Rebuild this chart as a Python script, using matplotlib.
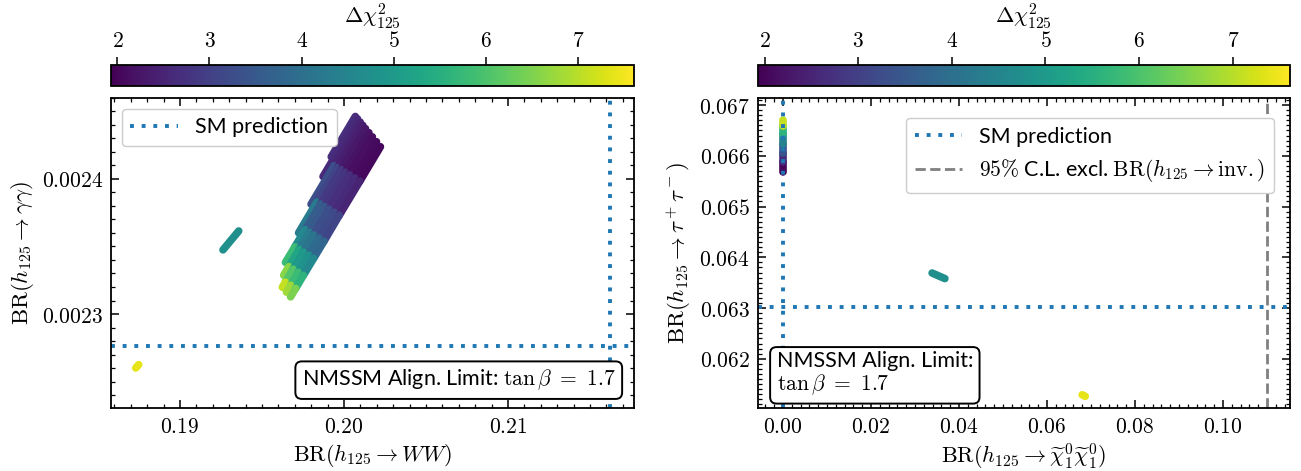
import numpy as np
import matplotlib
matplotlib.use("Agg")
import matplotlib.pyplot as plt
from matplotlib.collections import LineCollection
from matplotlib.ticker import AutoMinorLocator, FuncFormatter, MultipleLocator
from matplotlib.colors import Normalize
from matplotlib.cm import ScalarMappable

plt.rcParams['mathtext.fontset'] = 'cm'
plt.rcParams['font.family'] = 'DejaVu Serif'
plt.rcParams['font.size'] = 15
plt.rcParams['axes.linewidth'] = 1.3

# ---------------- data
# colour range of Delta chi^2_125
chi_min, chi_max = 1.93, 7.61

# main band in BR(WW) vs BR(gamma gamma): strips of points (vertices),
# one chi^2 value per piece between two vertices
band_ww = [
    [0.20069, 0.19922],
    [0.20082, 0.19872],
    [0.20099, 0.19940, 0.19799],
    [0.20115, 0.19961, 0.19835, 0.19723],
    [0.20131, 0.19982, 0.19856, 0.19763, 0.19700, 0.19643],
    [0.20152, 0.20008, 0.19882, 0.19789, 0.19726, 0.19663, 0.19632],
    [0.20173, 0.20034, 0.19908, 0.19815, 0.19752, 0.19689, 0.19642, 0.19624],
    [0.20198, 0.20066, 0.19940, 0.19847, 0.19784, 0.19721, 0.19674, 0.19649],
    [0.20222, 0.20097, 0.19971, 0.19878, 0.19815, 0.19752, 0.19705, 0.19674],
]
band_aa = [
    [0.0024463, 0.0024164],
    [0.0024446, 0.0024018],
    [0.0024421, 0.0024099, 0.0023813],
    [0.0024397, 0.0024084, 0.0023830, 0.0023601],
    [0.0024373, 0.0024069, 0.0023815, 0.0023624, 0.0023497, 0.0023382],
    [0.0024343, 0.0024050, 0.0023796, 0.0023605, 0.0023478, 0.0023351, 0.0023287],
    [0.0024312, 0.0024031, 0.0023777, 0.0023586, 0.0023459, 0.0023332, 0.0023236, 0.0023198],
    [0.0024276, 0.0024008, 0.0023754, 0.0023563, 0.0023436, 0.0023309, 0.0023213, 0.0023162],
    [0.0024239, 0.0023985, 0.0023731, 0.0023540, 0.0023413, 0.0023286, 0.0023190, 0.0023127],
]
band_chi = [
    [2.7],
    [2.6],
    [2.5, 3.3],
    [2.4, 3.1, 4.3],
    [2.3, 2.9, 3.6, 4.6, 5.8],
    [2.2, 2.8, 3.5, 4.3, 5.3, 6.6],
    [2.15, 2.7, 3.3, 4.1, 5.0, 6.1, 7.1],
    [2.1, 2.6, 3.2, 3.9, 4.8, 5.8, 6.8],
    [2.05, 2.5, 3.1, 3.8, 4.6, 5.6, 6.5],
]
# the two small groups
teal_ww = [0.19262, 0.19358]
teal_aa = [0.0023475, 0.0023615]
teal_chi = [4.75]
yel_ww = [0.18730, 0.18748]
yel_aa = [0.0022600, 0.0022625]
yel_chi = [7.4]

# right panel: BR(h -> chi chi) vs BR(h -> tau tau)
col_inv = [0.0001, 0.0001, 0.0001, 0.0001, 0.0001, 0.0001, 0.0001]
col_tt = [0.06569, 0.06588, 0.06606, 0.06624, 0.06642, 0.06658, 0.06671]
col_chi = [2.0, 2.6, 3.4, 4.4, 5.6, 7.1]
teal_inv = [0.0339, 0.0368]
teal_tt = [0.06369, 0.06358]
yel_inv = [0.0680, 0.0687]
yel_tt = [0.06129, 0.06126]

# reference lines
sm_ww, sm_aa = 0.21622, 0.0022763
sm_inv, sm_tt = 0.0, 0.06303
inv_limit = 0.11

cmap = plt.get_cmap('viridis')
norm = Normalize(vmin=chi_min, vmax=chi_max)
sans = {'family': 'Lato', 'size': 15.5}


def draw_strip(ax, xs, ys, cs, lw=5.5):
    pts = np.column_stack([xs, ys])
    segs = np.stack([pts[:-1], pts[1:]], axis=1)
    lc = LineCollection(segs, cmap=cmap, norm=norm, linewidths=lw,
                        capstyle='round', joinstyle='round')
    lc.set_array(np.asarray(cs))
    ax.add_collection(lc)


def style_axes(ax):
    ax.tick_params(which='both', direction='in', top=True, right=True)
    ax.tick_params(which='major', length=6, width=1.1, labelsize=15.5, pad=6)
    ax.tick_params(which='minor', length=3, width=0.9)
    ax.xaxis.set_minor_locator(AutoMinorLocator(10))
    ax.yaxis.set_minor_locator(AutoMinorLocator(10))


def add_cbar(fig, rect):
    cax = fig.add_axes(rect)
    cb = fig.colorbar(ScalarMappable(norm=norm, cmap=cmap), cax=cax,
                      orientation='horizontal')
    cb.ax.xaxis.set_ticks_position('top')
    cb.ax.xaxis.set_label_position('top')
    cb.set_ticks([2, 3, 4, 5, 6, 7])
    cb.ax.xaxis.set_major_formatter(FuncFormatter(lambda v, _: f'${v:.0f}$'))
    cb.ax.tick_params(direction='out', length=6, width=1.1, labelsize=15.5)
    cb.outline.set_linewidth(1.3)
    cb.set_label(r'$\Delta\chi^2_{125}$', fontsize=16, labelpad=5)
    return cb


fig = plt.figure(figsize=(13.01, 4.71), dpi=100)

# ---------------- left panel
ax1 = fig.add_axes([0.0853, 0.1338, 0.4020, 0.6582])
for xs, ys, cs in zip(band_ww, band_aa, band_chi):
    draw_strip(ax1, xs, ys, cs)
draw_strip(ax1, teal_ww, teal_aa, teal_chi)
draw_strip(ax1, yel_ww, yel_aa, yel_chi)
ax1.axvline(sm_ww, color='#1f77b4', lw=2.8, ls=(0, (1, 2)))
ax1.axhline(sm_aa, color='#1f77b4', lw=2.8, ls=(0, (1, 2)), label='SM prediction')
ax1.set_xlim(0.18579, 0.21768)
ax1.set_ylim(0.0022304, 0.00246)
ax1.xaxis.set_major_locator(MultipleLocator(0.01))
ax1.yaxis.set_major_locator(MultipleLocator(0.0001))
ax1.xaxis.set_major_formatter(FuncFormatter(lambda v, _: f'${v:.2f}$'))
ax1.yaxis.set_major_formatter(FuncFormatter(lambda v, _: f'${v:.4f}$'))
style_axes(ax1)
ax1.set_xlabel(r'$\mathrm{BR}(h_{125}\to WW)$', fontsize=16, labelpad=3)
ax1.set_ylabel(r'$\mathrm{BR}(h_{125}\to \gamma\gamma)$', fontsize=16.5)
ax1.legend(loc='upper left', prop=sans, handlelength=2.2, fancybox=True,
           borderpad=0.4, edgecolor='#cccccc', framealpha=1)
ax1.text(0.965, 0.05, r'NMSSM Align. Limit: $\tan\beta\ =\ 1.7$',
         transform=ax1.transAxes, ha='right', va='bottom', fontdict=sans,
         bbox=dict(boxstyle='round,pad=0.3', fc='white', ec='black', lw=1.4))
add_cbar(fig, [0.0853, 0.8175, 0.4020, 0.0450])

# ---------------- right panel
ax2 = fig.add_axes([0.5826, 0.1338, 0.4089, 0.6582])
draw_strip(ax2, col_inv, col_tt, col_chi)
draw_strip(ax2, teal_inv, teal_tt, teal_chi)
draw_strip(ax2, yel_inv, yel_tt, yel_chi)
ax2.axvline(sm_inv, color='#1f77b4', lw=2.8, ls=(0, (1, 2)))
ax2.axhline(sm_tt, color='#1f77b4', lw=2.8, ls=(0, (1, 2)), label='SM prediction')
ax2.axvline(inv_limit, color='grey', lw=2.0, ls='--',
            label=r'$95\%$ C.L. excl. $\mathrm{BR}(h_{125}\to \mathrm{inv.})$')
ax2.set_xlim(-0.00568, 0.11523)
ax2.set_ylim(0.06103, 0.06714)
ax2.xaxis.set_major_locator(MultipleLocator(0.02))
ax2.yaxis.set_major_locator(MultipleLocator(0.001))
ax2.xaxis.set_major_formatter(FuncFormatter(lambda v, _: f'${v:.2f}$'))
ax2.yaxis.set_major_formatter(FuncFormatter(lambda v, _: f'${v:.3f}$'))
style_axes(ax2)
ax2.set_xlabel(r'$\mathrm{BR}(h_{125}\to \widetilde{\chi}^0_1\widetilde{\chi}^0_1)$',
               fontsize=16, labelpad=3)
ax2.set_ylabel(r'$\mathrm{BR}(h_{125}\to \tau^+\tau^-)$', fontsize=16.5)
ax2.legend(loc='upper right', prop=sans, handlelength=2.2, fancybox=True,
           borderpad=0.4, edgecolor='#cccccc', framealpha=1,
           bbox_to_anchor=(0.99, 0.97))
ax2.text(0.035, 0.035, 'NMSSM Align. Limit:\n' + r'$\tan\beta\ =\ 1.7$',
         transform=ax2.transAxes, ha='left', va='bottom', fontdict=sans, linespacing=1.1,
         bbox=dict(boxstyle='round,pad=0.3', fc='white', ec='black', lw=1.4))
add_cbar(fig, [0.5826, 0.8175, 0.4089, 0.0450])

fig.savefig('out.png', dpi=100)
